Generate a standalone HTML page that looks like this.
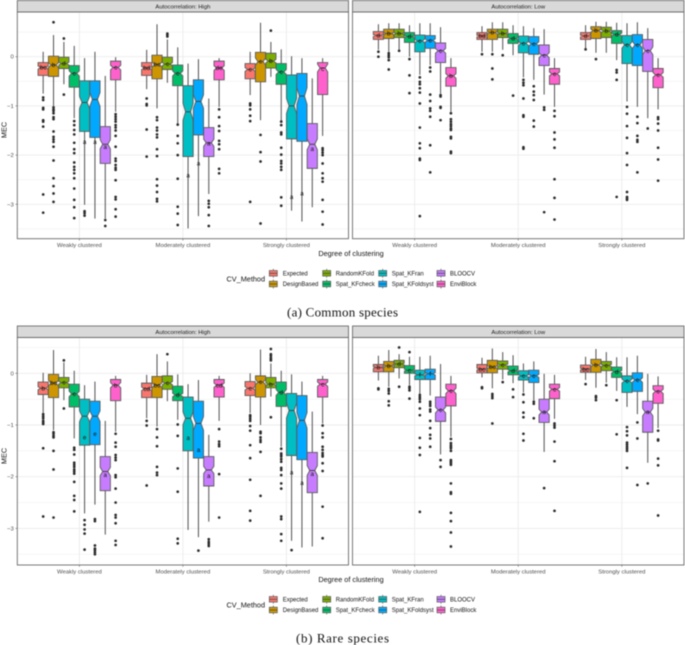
<!DOCTYPE html>
<html>
<head>
<meta charset="utf-8">
<title>MEC by degree of clustering</title>
<style>
html,body{margin:0;padding:0;background:#fff;width:685px;height:645px;overflow:hidden}
svg{display:block;filter:blur(0.4px)}
text{font-family:"Liberation Sans",sans-serif}
</style>
</head>
<body>
<svg id="chart" width="685" height="645" viewBox="0 0 685 645" xmlns="http://www.w3.org/2000/svg"></svg>
<script>
const categories = ["Weakly clustered", "Moderately clustered", "Strongly clustered"];
const methods = ["Expected", "DesignBased", "RandomKFold", "Spat_KFcheck", "Spat_KFran", "Spat_KFoldsyst", "BLOOCV", "EnviBlock"];
const methodColors = ["#F8766D", "#CD9600", "#7CAE00", "#00BE67", "#00BFC4", "#00A9FF", "#C77CFF", "#FF61CC"];
const yTicks = [0, -1, -2, -3];
const yMinorTicks = [0.5, -0.5, -1.5, -2.5, -3.5];
const sampleSize = 170;

// Each row: [whisker high, Q3, median, Q1, whisker low, label position, significance letter]
const commonHighStats = [
  [[.10,-.12,-.22,-.38,-.75,-.22,"bc"],[.44,.01,-.17,-.40,-1.00,-.17,"b"],[.30,-.01,-.14,-.24,-.56,-.14,"d"],[.22,-.18,-.34,-.62,-1.25,-.34,"c"],[-.03,-.49,-.93,-1.52,-3.01,-1.73,"a"],[.10,-.49,-.87,-1.64,-3.29,-1.73,"a"],[-.39,-1.42,-1.78,-2.17,-3.29,-1.83,"a"],[-.01,-.09,-.22,-.47,-1.12,-.22,"c"]],
  [[.14,-.12,-.23,-.38,-.66,-.23,"bd"],[.66,.03,-.16,-.45,-1.05,-.16,"bc"],[.35,-.01,-.15,-.26,-.53,-.15,"c"],[.19,-.17,-.34,-.59,-1.36,-.34,"c"],[-.14,-.59,-1.12,-2.03,-3.49,-2.41,"a"],[-.05,-.47,-.91,-1.59,-3.24,-2.17,"a"],[-.85,-1.44,-1.75,-2.03,-2.79,-1.76,"a"],[-.03,-.09,-.23,-.47,-1.02,-.23,"de"]],
  [[.10,-.14,-.26,-.45,-.78,-.26,"c"],[.69,.09,-.10,-.51,-1.29,-.10,"c"],[.30,.07,-.09,-.23,-.41,-.09,"b"],[.15,-.14,-.31,-.56,-1.30,-.31,"c"],[.01,-.37,-1.00,-1.67,-3.13,-2.85,"a"],[-.03,-.34,-.80,-1.72,-3.35,-2.78,"a"],[-.44,-1.36,-1.78,-2.27,-3.06,-1.87,"a"],[-.03,-.12,-.23,-.77,-1.61,-.25,"c"]]
];
const commonHighOutliers = [
  [[-.83,-.88,-1.04,-1.07,-1.29,-1.32,-1.42,-2.80,-3.17],[.70,-1.03,-1.07,-1.10,-1.15,-1.23,-1.27,-1.52,-1.63,-1.68,-1.73,-1.83,-2.11,-2.47,-2.63,-2.78,-2.95],[.37,-.77],[-1.31,-1.39,-1.49,-1.58,-1.75,-1.88,-1.96,-2.15,-2.24,-2.30,-2.37,-2.47,-2.68,-2.91,-3.06,-3.28],[-3.14,-3.18,-3.23],[],[-3.32,-3.44],[-1.17,-1.22,-1.27,-1.32,-1.39,-1.44,-1.50,-1.61,-1.83,-2.07,-2.12,-2.20,-2.26,-2.30,-2.51,-2.85,-2.90,-3.10,-3.25]],
  [[-.85,-.96,-.99,-1.48,-2.03],[-1.23,-1.29,-1.44,-1.50,-1.58,-1.64,-1.88,-2.02,-2.49,-2.62,-2.75,-2.89,-2.94],[.47,.44,.41],[-1.38,-1.61,-1.76,-2.00,-2.48,-3.05,-3.19,-3.42],[],[],[-2.93,-2.99,-3.06,-3.22,-3.44],[-1.07,-1.23,-1.41,-1.51,-1.71,-1.78,-1.88,-2.28,-2.37]],
  [[-.95,-.99,-1.07,-1.20,-1.31,-2.95],[-1.59,-1.94,-2.13,-3.39],[.53],[-1.32,-1.39,-1.54,-1.58,-1.85,-1.99,-2.12,-2.17,-2.24,-2.30,-2.86,-3.03],[],[],[],[-1.86,-1.90,-1.95,-2.00,-2.17,-2.37,-2.47,-2.54,-2.91,-3.15,-3.41]]
];
const commonLowStats = [
  [[.66,.51,.43,.35,.14,.43,"d"],[.68,.56,.47,.37,.10,.47,"b"],[.68,.56,.47,.39,.14,.47,"b"],[.64,.49,.41,.29,0,.41,"d"],[.68,.44,.32,.10,-.37,.32,"c"],[.68,.43,.33,.17,-.17,.33,"c"],[.60,.28,.12,-.12,-.75,.12,"c"],[-.03,-.22,-.39,-.60,-1.12,-.39,"b"]],
  [[.62,.49,.42,.35,.10,.42,"bd"],[.70,.56,.49,.35,.10,.49,"b"],[.70,.56,.47,.39,.14,.47,"b"],[.64,.47,.37,.27,.03,.37,"d"],[.62,.42,.27,.08,-.42,.27,"c"],[.58,.41,.26,.05,-.47,.26,"c"],[.56,.24,.03,-.18,-.77,.03,"c"],[-.03,-.24,-.35,-.56,-1.02,-.35,"c"]],
  [[.64,.49,.42,.35,.17,.42,"d"],[.71,.61,.53,.37,.08,.53,"b"],[.71,.60,.52,.39,.08,.52,"b"],[.69,.53,.45,.27,-.07,.45,"d"],[.68,.43,.24,-.14,-.91,.24,"c"],[.70,.45,.24,-.18,-1.02,.24,"c"],[.58,.35,.12,-.30,-1.25,.12,"c"],[-.03,-.24,-.37,-.63,-1.07,-.37,"c"]]
];
const commonLowOutliers = [
  [[.10,0],[.07,.03,-.01,-.07,-.26],[.12],[-.05,-.38,-.74],[-.42,-.51,-.56,-.64,-.73,-.95,-1.44,-1.76,-1.86,-2.07,-2.10,-3.24],[-.22,-.30,-.77,-.90,-1.05,-1.10,-1.22,-1.80,-2.35],[-.78,-.81,-1.02,-1.04,-1.29],[-1.15,-1.27,-1.32,-1.37,-1.41,-1.46,-1.49,-1.63,-1.66,-1.93,-1.96]],
  [[.05],[.05,-.24,-.46],[.03],[-.79],[-.47,-.53,-.58,-.85,-1.19,-1.22,-1.84,-1.87],[-.60,-.71,-.78,-.88,-1.30,-1.42],[-1.03,-1.08,-3.16],[-1.10,-1.21,-1.54,-1.68,-1.85,-2.49,-2.87,-3.31]],
  [[.15],[-.05],[],[-.27,-.32,-.47,-2.85],[-1.02,-1.16,-1.41,-1.65,-1.96,-2.20,-2.75,-2.85,-2.88,-2.91],[-1.22,-1.35,-1.61,-1.69,-1.73,-2.35],[-1.46],[-1.23,-1.27,-1.36,-1.50,-1.85,-2.09,-2.52]]
];
const rareHighStats = [
  [[.01,-.17,-.29,-.41,-.76,-.29,"b"],[.45,-.02,-.19,-.47,-1.10,-.19,"bc"],[.21,-.08,-.18,-.28,-.52,-.18,"c"],[.05,-.21,-.40,-.65,-1.26,-.40,"c"],[-.23,-.50,-.83,-1.39,-2.71,-1.24,"e"],[-.16,-.54,-.83,-1.38,-2.54,-1.17,"e"],[-.92,-1.61,-1.90,-2.27,-3.12,-1.97,"a"],[-.05,-.12,-.23,-.53,-1.13,-.23,"b"]],
  [[-.03,-.19,-.30,-.47,-.87,-.30,"cd"],[.37,-.06,-.23,-.47,-1.03,-.23,"bc"],[.23,-.05,-.19,-.31,-.54,-.19,"c"],[-.02,-.25,-.42,-.53,-.90,-.42,"d"],[-.21,-.46,-.87,-1.50,-3.03,-1.25,"a"],[-.13,-.54,-.97,-1.64,-3.17,-1.48,"a"],[-1.19,-1.61,-1.87,-2.18,-2.87,-1.98,"a"],[-.05,-.12,-.23,-.46,-.92,-.23,"cd"]],
  [[0,-.16,-.29,-.43,-.77,-.29,"c"],[.46,-.05,-.17,-.46,-1.00,-.17,"c"],[.19,-.08,-.21,-.28,-.45,-.21,"b"],[.05,-.17,-.37,-.64,-1.42,-.37,"d"],[-.02,-.39,-.72,-1.59,-3.24,-1.92,"a"],[-.16,-.43,-.91,-1.67,-3.37,-2.12,"a"],[-.74,-1.53,-1.88,-2.31,-3.35,-1.95,"a"],[-.05,-.12,-.21,-.46,-.97,-.21,"c"]]
];
const rareHighOutliers = [
  [[-.79,-.83,-.87,-.92,-.95,-.98,-1.45,-2.77],[-1.14,-1.17,-1.21,-1.24,-1.50,-1.86,-2.79],[.25,-.68],[-1.44,-1.48,-1.57,-1.73,-1.77,-1.81,-1.86,-1.90,-1.94,-2.10,-2.37,-2.45,-2.67],[-2.84,-2.93,-3.02,-3.10,-3.41],[-2.82,-2.86,-3.33,-3.39,-3.42,-3.46,-3.50],[],[-1.17,-1.34,-1.42,-1.58,-1.63,-1.68,-1.97,-2.01,-2.23,-2.50,-2.74,-2.79,-2.90,-3.24,-3.32]],
  [[-.92,-1.01,-2.17],[-1.08,-1.24,-1.41,-1.81,-1.92,-1.97],[.37],[-.99,-1.21,-1.84,-2.29,-3.20,-3.29],[],[-3.43],[-3.21,-3.26,-3.30,-3.34],[-1.08,-1.32,-1.37,-1.41,-1.95,-2.79]],
  [[-.81,-.84,-.88,-.92,-1.02,-1.11,-1.39,-1.64,-2.06,-2.66,-2.85],[-1.13,-1.16,-1.24,-1.29,-1.33,-1.52,-2.37],[.47,.37,.34,.30,.27,.25,-.85],[-1.46,-1.55,-1.58,-1.61,-1.66,-1.71,-1.83,-1.87,-1.97,-2.13,-2.23,-2.77,-2.82,-3.11,-3.24],[-3.42],[],[],[-1.01,-1.16,-1.24,-1.42,-1.48,-1.54,-1.58,-1.61,-1.74,-1.89,-2.58,-3.19]]
];
const rareLowStats = [
  [[.34,.17,.11,.03,-.14,.11,"b"],[.45,.23,.14,.03,-.26,.14,"b"],[.37,.25,.18,.11,-.10,.18,"d"],[.32,.15,.06,0,-.23,.06,"c"],[.32,.06,-.03,-.12,-.40,-.03,"f"],[.34,.08,-.01,-.12,-.43,-.01,"f"],[.18,-.46,-.71,-.93,-1.57,-.71,"c"],[-.05,-.21,-.34,-.63,-1.23,-.34,"c"]],
  [[.30,.17,.08,.01,-.08,.08,"bc"],[.48,.25,.12,.01,-.29,.12,"bc"],[.41,.24,.16,.08,-.12,.16,"c"],[.35,.14,.05,-.03,-.19,.05,"d"],[.19,.05,-.05,-.13,-.37,-.05,"c"],[.23,.06,-.05,-.18,-.52,-.05,"c"],[-.01,-.50,-.75,-.95,-1.52,-.75,"a"],[-.03,-.21,-.31,-.49,-.88,-.31,"c"]],
  [[.32,.16,.08,.02,-.13,.08,"bc"],[.47,.27,.16,.02,-.28,.16,"b"],[.41,.23,.15,.05,-.18,.15,"c"],[.31,.12,.03,-.08,-.34,.03,"d"],[.31,-.05,-.15,-.37,-.65,-.15,"c"],[.34,.01,-.13,-.35,-.79,-.13,"c"],[-.01,-.54,-.75,-1.14,-1.73,-.75,"a"],[-.06,-.24,-.35,-.58,-1.06,-.35,"c"]]
];
const rareLowOutliers = [
  [[-.29,-.31],[-.30,-.34,-.39,-.54,-.62],[.50,-.26],[.41,-.26,-.29,-.33,-.49],[-.42,-.46,-.50,-.55,-.68,-.81,-1.25,-1.44,-1.58,-2.68],[-.55,-.59,-.63,-.70,-.74,-.92,-1.06,-1.19,-1.26,-1.42],[-1.68,-1.81],[-1.27,-1.35,-1.39,-1.42,-1.45,-1.50,-1.68,-1.71,-1.74,-1.77,-2.13,-2.30,-2.33,-2.70,-2.86,-3.08,-3.35]],
  [[-.27,-.29],[-.40,-.44,-.48,-.97],[-.17],[-.31,-.46],[-.41,-.56,-.76,-.85,-1.17,-1.30],[-.55,-.59,-.87],[-2.22],[-.97,-1.01,-1.05,-1.32,-1.70,-2.66]],
  [[-.21],[-.44,-.47,-.52],[-.23],[-.52,-1.18],[-1.04,-1.12,-1.20,-1.34,-1.38,-1.42,-1.46,-1.50,-1.83],[-.95,-1.26,-2.16],[-2.13],[-1.11,-1.28,-1.30,-1.65,-1.78,-2.75]]
];

const NS = "http://www.w3.org/2000/svg";
const root = document.getElementById("chart");
function make(parent, tag, attrs, content) {
  const el = document.createElementNS(NS, tag);
  for (const key in attrs) el.setAttribute(key, attrs[key]);
  if (content !== undefined) el.textContent = content;
  parent.appendChild(el);
  return el;
}

function drawPanel(title, stats, outliers, x0, x1, top, bottom, zeroY, unit, showY, keyName) {
  const stripTop = top - 11.5;
  const xScale = (groupIndex, methodIndex) => x0 + (x1 - x0) * (0.6 + groupIndex + (methodIndex - 3.5) * 0.1) / 3.2;
  const groupX = (groupIndex) => x0 + (x1 - x0) * (0.6 + groupIndex) / 3.2;
  const yScale = (value) => zeroY - value * unit;

  const panel = make(root, "g", {});
  
  

  const strip = make(panel, "rect", { x: x0, y: stripTop, width: x1 - x0, height: 11.5, fill: "#d9d9d9", stroke: "#5a5a5a", "stroke-width": 0.8 });
  
  
  const stripLabel = make(panel, "text", { x: (x0 + x1) / 2, y: stripTop + 8.2, "text-anchor": "middle", "font-size": 5.9, fill: "#1a1a1a" }, title);
  
  

  yMinorTicks.forEach((tick) => {
    const minor = make(panel, "line", { x1: x0, x2: x1, y1: yScale(tick), y2: yScale(tick), stroke: "#efefef", "stroke-width": 0.6 });
    
    
  });
  yTicks.forEach((tick) => {
    const major = make(panel, "line", { x1: x0, x2: x1, y1: yScale(tick), y2: yScale(tick), stroke: "#ebebeb", "stroke-width": 0.9 });
    
    
    if (showY) {
      const tickLabel = make(panel, "text", { x: x0 - 3.5, y: yScale(tick) + 2, "text-anchor": "end", "font-size": 5.9, fill: "#4d4d4d" }, tick === 0 ? "0" : "\u2212" + Math.abs(tick));
      
      
      const tickMark = make(panel, "line", { x1: x0 - 1.8, x2: x0, y1: yScale(tick), y2: yScale(tick), stroke: "#444", "stroke-width": 0.5 });
      
      
    }
  });
  categories.forEach((name, g) => {
    const gx = groupX(g);
    const vGrid = make(panel, "line", { x1: gx, x2: gx, y1: top, y2: bottom, stroke: "#ebebeb", "stroke-width": 0.9 });
    
    
    const tickMark = make(panel, "line", { x1: gx, x2: gx, y1: bottom, y2: bottom + 1.8, stroke: "#444", "stroke-width": 0.5 });
    
    
    const xLabel = make(panel, "text", { x: gx, y: bottom + 8.4, "text-anchor": "middle", "font-size": 5.9, fill: "#4d4d4d" }, name);
    
    
  });

  stats.forEach((group, g) => {
    group.forEach((row, m) => {
      const [hi, q3, med, q1, lo, labelPos, letter] = row;
      const cx = xScale(g, m);
      const half = 5.1;
      const inset = 2.55;
      const notch = 1.58 * (q3 - q1) / Math.sqrt(sampleSize);
      const box = make(panel, "g", {});
      
      
      make(box, "line", { x1: cx, x2: cx, y1: yScale(hi), y2: yScale(q3), stroke: "#505050", "stroke-width": 1 });
      make(box, "line", { x1: cx, x2: cx, y1: yScale(q1), y2: yScale(lo), stroke: "#505050", "stroke-width": 1 });
      const d = [
        "M", cx - half, yScale(q3), "L", cx + half, yScale(q3),
        "L", cx + half, yScale(med + notch), "L", cx + half - inset, yScale(med), "L", cx + half, yScale(med - notch),
        "L", cx + half, yScale(q1), "L", cx - half, yScale(q1),
        "L", cx - half, yScale(med - notch), "L", cx - half + inset, yScale(med), "L", cx - half, yScale(med + notch), "Z"
      ].join(" ");
      make(box, "path", { d: d, fill: methodColors[m], stroke: "#5a5a5a", "stroke-width": 0.9 });
      make(box, "line", { x1: cx - half + inset, x2: cx + half - inset, y1: yScale(med), y2: yScale(med), stroke: "#444", "stroke-width": 1 });
      outliers[g][m].forEach((value) => {
        const dot = make(box, "circle", { cx: cx, cy: yScale(value), r: 1.35, fill: "#2a2a2a" });
        
        
      });
      const tag = make(box, "text", { x: cx, y: yScale(labelPos) + 2.1, "text-anchor": "middle", "font-size": 6.2, fill: "#111" }, letter);
      
      
    });
  });

  const border = make(panel, "rect", { x: x0, y: top, width: x1 - x0, height: bottom - top, fill: "none", stroke: "#6a6a6a", "stroke-width": 0.9 });
  
  
}

function drawFigureText(offset, caption, captionX, captionW) {
  const mecLabel = make(root, "text", { transform: "translate(6.5," + (130 + offset) + ") rotate(-90)", "text-anchor": "middle", "font-size": 7.3, fill: "#111" }, "MEC");
  
  
  const xTitle = make(root, "text", { x: 351, y: 255.8 + offset, "text-anchor": "middle", "font-size": 7.3, fill: "#111" }, "Degree of clustering");
  
  
  const legendTitle = make(root, "text", { x: 226.5, y: 281.5 + offset, "font-size": 7.3, fill: "#111" }, "CV_Method");
  
  
  const columns = [[273.3, 282.7], [326.7, 335.7], [382.7, 391.7], [441, 450]];
  methods.forEach((name, i) => {
    const col = columns[Math.floor(i / 2)];
    const ky = (i % 2 === 0 ? 273.3 : 284) + offset;
    const entry = make(root, "g", {});
    
    
    make(entry, "line", { x1: col[0], x2: col[0], y1: ky - 4.5, y2: ky + 4.5, stroke: "#5c5c5c", "stroke-width": 0.7 });
    make(entry, "rect", { x: col[0] - 4, y: ky - 2.8, width: 8, height: 5.6, fill: methodColors[i], stroke: "#5c5c5c", "stroke-width": 0.7 });
    make(entry, "line", { x1: col[0] - 4, x2: col[0] + 4, y1: ky, y2: ky, stroke: "#444", "stroke-width": 0.7 });
    make(entry, "text", { x: col[1], y: ky + 2.1, "font-size": 6, fill: "#111" }, name);
  });
  const captionText = make(root, "text", { x: captionX, y: 316.5 + offset, "font-size": 13, fill: "#111", textLength: captionW, lengthAdjust: "spacing", style: 'font-family:"Liberation Serif",serif' }, caption);
  
  
}

drawPanel("Autocorrelation: High", commonHighStats, commonHighOutliers, 17.3, 348.5, 12, 238.7, 56.7, 49.2, true, "common-high");
drawPanel("Autocorrelation: Low", commonLowStats, commonLowOutliers, 352.5, 684, 12, 238.7, 56.7, 49.2, false, "common-low");
drawPanel("Autocorrelation: High", rareHighStats, rareHighOutliers, 17.3, 348.5, 337.5, 565, 373.3, 51.7, true, "rare-high");
drawPanel("Autocorrelation: Low", rareLowStats, rareLowOutliers, 352.5, 684, 337.5, 565, 373.3, 51.7, false, "rare-low");
drawFigureText(0, "(a) Common species", 287, 111);
drawFigureText(326, "(b) Rare species", 296, 93);
</script>
</body>
</html>
